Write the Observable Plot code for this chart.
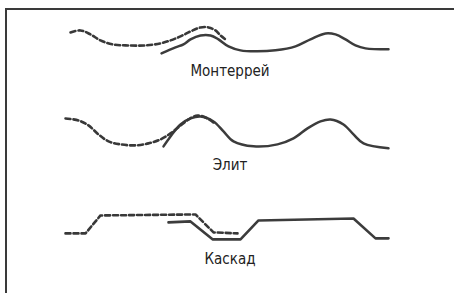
<!DOCTYPE html>
<html>
<head>
<meta charset="utf-8">
<script src="https://cdn.jsdelivr.net/npm/d3@7"></script>
<script src="https://cdn.jsdelivr.net/npm/@observablehq/plot@0.6"></script>
<style>
  html, body { margin: 0; padding: 0; background: #fff; }
  #wrap { position: relative; width: 454px; height: 293px; overflow: hidden; }
  #frame { position: absolute; left: 5px; top: 8px; width: 460px; height: 300px;
           border-top: 2px solid #3a3a3a; border-left: 2px solid #3a3a3a; box-sizing: border-box; }
  #chart { position: absolute; left: 0; top: 0; }
</style>
</head>
<body>
<div id="wrap"><div id="frame"></div><div id="chart"></div></div>
<script>
// Profile names (rows)
const profiles = ["Монтеррей", "Элит", "Каскад"];

// [horizontal position, profile height] for each outline
const monterreySolid = [[161,-2],[175,4],[183,7],[190,12],[200,16],[210,16],[218,12],[228,5],[240,1],[255,0],[275,1],[295,5],[310,12],[325,18],[335,17],[345,12],[355,6],[365,3],[388,2]];
const monterreyDashed = [[70,19],[80,21],[90,17],[100,11],[112,7],[125,6],[145,6],[160,8],[170,11],[180,15],[190,20],[200,24],[208,24],[215,21],[220,16],[225,12]];

const elitSolid = [[163,-1],[170,9],[180,21],[190,27],[200,29],[213,24],[223,14],[233,4],[253,-1],[277,1],[293,7],[307,17],[320,24],[330,26],[343,21],[353,11],[363,2],[388,-3]];
const elitDashed = [[65,27],[78,25],[88,20],[98,11],[108,4],[120,1],[135,0],[148,2],[160,6],[170,12],[179,19],[188,26],[197,30],[207,27],[213,23]];

const kaskadSolid = [[168,17],[190,18],[212,0],[240,0],[258,19],[353,21],[375,1],[388,1]];
const kaskadDashed = [[65,6],[85,6],[100,24],[195,25],[213,7],[237,6]];

const series = [
  {profile: "Монтеррей", kind: "solid", pts: monterreySolid},
  {profile: "Монтеррей", kind: "dashed", pts: monterreyDashed},
  {profile: "Элит", kind: "solid", pts: elitSolid},
  {profile: "Элит", kind: "dashed", pts: elitDashed},
  {profile: "Каскад", kind: "solid", pts: kaskadSolid},
  {profile: "Каскад", kind: "dashed", pts: kaskadDashed}
];
const rows = series.flatMap(s => s.pts.map(([x, h]) => ({profile: s.profile, kind: s.kind, x, h})));
const smooth = d => d.profile !== "Каскад";
const angular = d => d.profile === "Каскад";

const chart = Plot.plot({
  width: 454,
  height: 293,
  marginTop: 10,
  marginBottom: 0,
  marginLeft: 0,
  marginRight: 0,
  style: {background: "transparent"},
  x: {domain: [0, 454], axis: null},
  y: {domain: [-54.33, 40], axis: null},
  fy: {domain: profiles, axis: null, padding: 0},
  marks: [
    Plot.line(rows.filter(d => smooth(d) && d.kind === "solid"), {x: "x", y: "h", fy: "profile", curve: "catmull-rom", stroke: "#3c3c3c", strokeWidth: 2.5}),
    Plot.line(rows.filter(d => smooth(d) && d.kind === "dashed"), {x: "x", y: "h", fy: "profile", curve: "catmull-rom", stroke: "#383838", strokeWidth: 2.6, strokeDasharray: "5,3"}),
    Plot.line(rows.filter(d => angular(d) && d.kind === "solid"), {x: "x", y: "h", fy: "profile", curve: "linear", stroke: "#3c3c3c", strokeWidth: 2.6}),
    Plot.line(rows.filter(d => angular(d) && d.kind === "dashed"), {x: "x", y: "h", fy: "profile", curve: "linear", stroke: "#383838", strokeWidth: 2.6, strokeDasharray: "5,3"}),
    Plot.text(profiles, {fy: d => d, text: d => d, x: 229.5, y: -20, fill: "#222", fontSize: 15,
      fontFamily: "'DejaVu Sans Condensed', 'Liberation Sans Narrow', sans-serif"})
  ]
});
document.getElementById("chart").appendChild(chart);
</script>
</body>
</html>
